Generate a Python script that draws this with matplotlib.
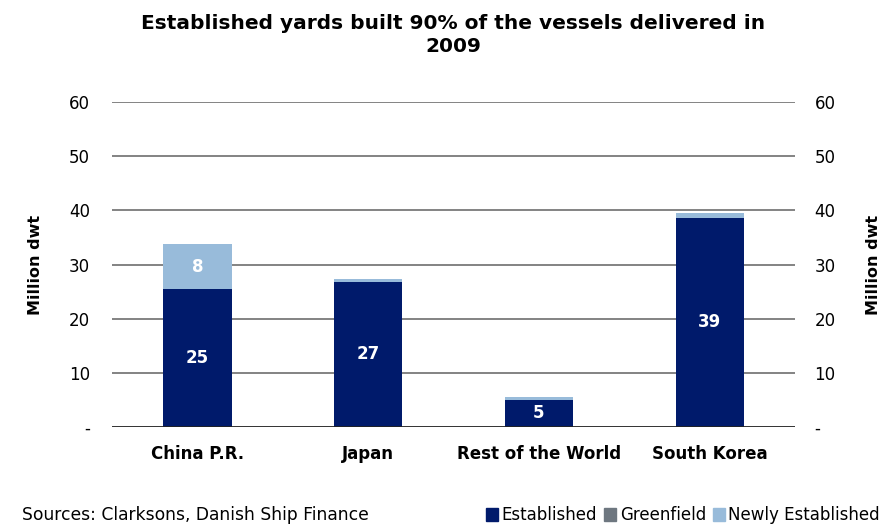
import numpy as np
import matplotlib.pyplot as plt
from matplotlib.patches import Patch

# deliveries 2009 by builder country, million dwt
countries = ['China P.R.', 'Japan', 'Rest of the World', 'South Korea']
established = [25.4, 26.8, 5.0, 38.6]
greenfield = [0.0, 0.0, 0.0, 0.0]
newly_established = [8.3, 0.5, 0.6, 0.9]

c_est = '#001A6B'
c_green = '#6E7780'
c_newly = '#98BBDA'


def main():
    plt.rcParams['font.family'] = 'DejaVu Sans'
    fig = plt.figure(figsize=(8.92, 5.24), dpi=100)
    ax = fig.add_axes([0.1256, 0.1851, 0.7657, 0.6202])

    x = np.arange(len(countries))
    est = np.array(established)
    gre = np.array(greenfield)
    new = np.array(newly_established)
    w = 0.40

    ax.bar(x, est, w, color=c_est, zorder=3)
    ax.bar(x, gre, w, bottom=est, color=c_green, zorder=3)
    ax.bar(x, new, w, bottom=est + gre, color=c_newly, zorder=3)

    # value labels inside the segments big enough to hold them
    for i in range(len(x)):
        ax.text(x[i], est[i] / 2, '%d' % round(est[i]), ha='center', va='center',
                color='white', fontsize=12, fontweight='bold', zorder=4)
        if new[i] > 3:
            ax.text(x[i], est[i] + gre[i] + new[i] / 2, '%d' % round(new[i]),
                    ha='center', va='center', color='white', fontsize=12,
                    fontweight='bold', zorder=4)

    ax.set_xlim(-0.5, len(x) - 0.5)
    ax.set_ylim(0, 60)
    yt = [0, 10, 20, 30, 40, 50, 60]
    ylab = ['-'] + [str(v) for v in yt[1:]]
    ax.set_yticks(yt)
    ax.set_yticklabels(ylab, fontsize=12)
    ax.tick_params(axis='y', length=0, pad=16)
    ax.set_xticks(x)
    ax.set_xticklabels(countries, fontsize=12, fontweight='bold')
    ax.tick_params(axis='x', length=0, pad=13)
    for s in ax.spines.values():
        s.set_visible(False)
    for v in yt[1:]:
        ax.axhline(v, color='#7A7A7A', lw=1.3, zorder=1)
    ax.axhline(0, color='#222222', lw=1.3, zorder=5)

    ax2 = ax.twinx()
    ax2.set_ylim(0, 60)
    ax2.set_yticks(yt)
    ax2.set_yticklabels(ylab, fontsize=12)
    ax2.tick_params(axis='y', length=0, pad=14)
    for s in ax2.spines.values():
        s.set_visible(False)

    fig.text(35 / 892, 0.494, 'Million dwt', rotation=90, ha='center', va='center',
             fontsize=11.5, fontweight='bold')
    fig.text(873 / 892, 0.494, 'Million dwt', rotation=90, ha='center', va='center',
             fontsize=11.5, fontweight='bold')

    fig.text(0.508, 1 - 35 / 524,
             'Established yards built 90% of the vessels delivered in\n2009',
             ha='center', va='center', fontsize=14.5, fontweight='bold', linespacing=1.3)

    fig.text(22 / 892, 0.017, 'Sources: Clarksons, Danish Ship Finance',
             ha='left', va='center', fontsize=12.3)

    handles = [Patch(color=c_est, label='Established'),
               Patch(color=c_green, label='Greenfield'),
               Patch(color=c_newly, label='Newly Established')]
    fig.legend(handles=handles, loc='center right', bbox_to_anchor=(880 / 892, 0.017),
               ncol=3, frameon=False, fontsize=12, handlelength=0.75, handleheight=0.8,
               handletextpad=0.2, columnspacing=0.4, borderpad=0, borderaxespad=0)

    fig.savefig('out.png', dpi=100)


if __name__ == '__main__':
    main()
